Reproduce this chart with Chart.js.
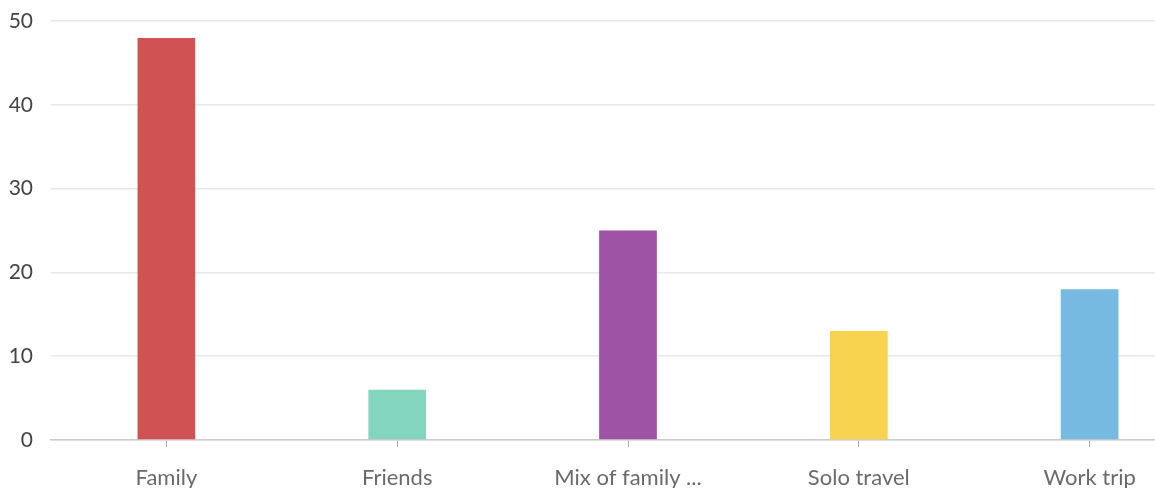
<!DOCTYPE html>
<html><head><meta charset="utf-8">
<script src="https://cdn.jsdelivr.net/npm/chart.js@4/dist/chart.umd.min.js"></script>
<style>html,body{margin:0;padding:0;overflow:hidden;background:#fff;width:1155px;height:488px}canvas{display:block}</style>
</head><body>
<canvas id="c" width="1205" height="488" style="width:1205px;height:488px"></canvas>
<script>
const categories = ["Family", "Friends", "Mix of family ...", "Solo travel", "Work trip"];
const values = [48, 6, 25, 13, 18];
const barColors = ["#d05252", "#83d6bd", "#9e52a4", "#f8d34f", "#76b9e1"];
const yTicks = [0, 10, 20, 30, 40, 50];

new Chart(document.getElementById('c'), {
  type: 'bar',
  data: { labels: categories, datasets: [{ data: values, backgroundColor: barColors, borderWidth: 0, barPercentage: 0.25, categoryPercentage: 1 }] },
  options: {
    responsive: false, animation: false,
    layout: { padding: { top: 0, left: 0, right: 0, bottom: 0 } },
    plugins: { legend: { display: false }, tooltip: { enabled: false } },
    scales: {
      x: {
        grid: { display: true, drawOnChartArea: false, drawTicks: true, tickLength: 7, color: '#aaa', offset: false },
        border: { display: true, color: '#ccc', width: 1.5 },
        ticks: { padding: 18, color: '#6a6a6a', font: { family: 'Lato', size: 22 }, maxRotation: 0, autoSkip: false },
        afterFit: s => { s.height = 48; }
      },
      y: {
        min: 0, max: 50,
        afterBuildTicks: s => { s.ticks = yTicks.map(v => ({ value: v })); },
        grid: { color: '#e8e8e8', lineWidth: 1.5, drawTicks: false },
        border: { display: false },
        ticks: { padding: 18, color: '#444', font: { family: 'Lato', size: 21, lineHeight: 0.3 } },
        afterFit: s => { s.width = 51; }
      }
    }
  }
});
</script>
</body></html>
